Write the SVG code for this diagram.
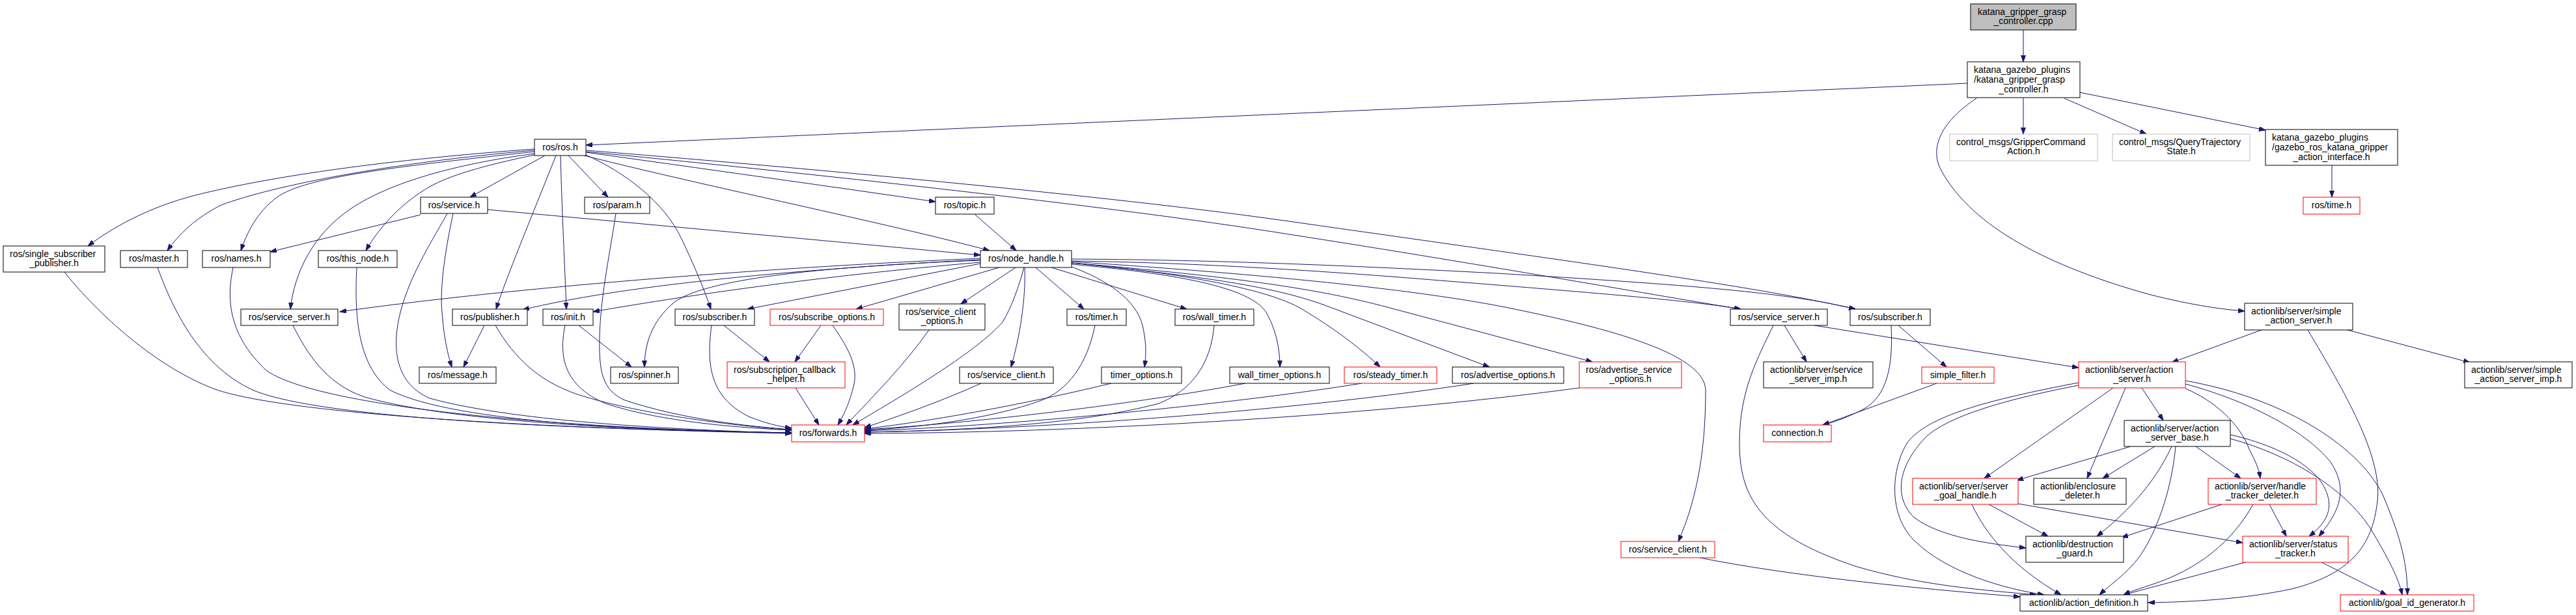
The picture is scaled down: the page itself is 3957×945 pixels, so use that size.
<svg xmlns="http://www.w3.org/2000/svg" width="3957" height="945" viewBox="0 0 3957 945">
<defs>
<marker id="arr" markerUnits="userSpaceOnUse" markerWidth="11" markerHeight="8" refX="10" refY="3.5" orient="auto">
<path d="M0,0 L10,3.5 L0,7 Z" fill="#191970" stroke="#191970" stroke-width="1"/>
</marker>
<style>
.node rect{fill:#fff;stroke:#000;stroke-width:1}
.red rect{stroke:#ff0000}
.gray rect{stroke:#bfbfbf}
.root rect{fill:#bfbfbf}
text{font-family:"Liberation Sans",Arial,sans-serif;font-size:14px;fill:#000}
.c{text-anchor:middle}
#edges path{fill:none;stroke:#191970;stroke-width:1;marker-end:url(#arr)}
</style>
</defs>
<rect x="0" y="0" width="3957" height="945" fill="#fff"/>
<g id="edges">
<path d="M3108,46 L3108,95"/>
<path d="M3022,128 L900,223"/>
<path d="M3108,150 L3108,206"/>
<path d="M3171,151 L3297,206"/>
<path d="M3195,142 L3480,200"/>
<path d="M3036,151 C2985,185 2962,225 2982,262 C3030,350 3150,410 3300,452 C3370,470 3420,476 3448,478"/>
<path d="M3582,254 L3582,303"/>
<path d="M821,229 C600,245 420,270 300,300 C230,318 175,348 135,378"/>
<path d="M821,231 C600,250 420,285 340,315 C300,335 275,360 257,385"/>
<path d="M821,233 C620,255 480,270 430,300 C400,320 382,350 370,385"/>
<path d="M821,236 C700,252 600,280 540,320 C480,360 452,420 446,475"/>
<path d="M821,238 C740,255 690,270 660,287 C620,310 585,345 562,385"/>
<path d="M837,239 L722,303"/>
<path d="M854,239 C830,300 780,420 762,475"/>
<path d="M861,239 C863,320 868,420 870,475"/>
<path d="M873,239 L934,303"/>
<path d="M900,238 C960,265 1020,310 1047,367 C1065,405 1082,445 1092,475"/>
<path d="M900,234 C1100,262 1300,290 1437,310"/>
<path d="M897,239 C1100,290 1350,340 1520,385"/>
<path d="M900,233 C1200,262 1700,315 1980,360 C2300,410 2550,455 2674,475"/>
<path d="M900,231 C1200,255 1700,300 1980,340 C2400,400 2700,440 2850,475"/>
<path d="M1646,401 C1800,403 1980,412 2200,430 C2450,450 2600,462 2674,475"/>
<path d="M1646,398 C1800,399 1980,403 2300,420 C2600,438 2750,450 2850,475"/>
<path d="M749,322 L1506,392"/>
<path d="M646,330 L415,387"/>
<path d="M696,328 C685,380 675,440 679,480 C682,520 688,545 694,564"/>
<path d="M687,328 C670,360 630,420 615,480 C600,540 610,590 660,612 C800,650 1050,660 1216,666"/>
<path d="M1497,329 L1561,385"/>
<path d="M1506,397 C1200,410 800,440 522,479"/>
<path d="M1506,399 C1200,415 950,440 803,476"/>
<path d="M1506,403 C1250,425 1050,455 911,479"/>
<path d="M1506,400 C1250,410 1080,430 1035,465 C1000,495 990,530 990,564"/>
<path d="M1506,405 L1148,475"/>
<path d="M1535,411 L1315,475"/>
<path d="M1560,411 L1476,467"/>
<path d="M1573,411 C1565,440 1555,470 1540,495 C1500,540 1400,600 1310,653"/>
<path d="M1574,411 C1576,460 1566,520 1553,564"/>
<path d="M1591,411 L1665,475"/>
<path d="M1615,411 L1823,475"/>
<path d="M1646,410 C1700,430 1745,460 1755,500 C1762,530 1760,550 1758,564"/>
<path d="M1646,406 C1800,420 1920,440 1945,480 C1962,510 1966,540 1966,564"/>
<path d="M1646,404 C1820,420 1950,445 2000,475 C2050,505 2090,535 2120,564"/>
<path d="M1646,404 C1850,425 1960,440 2043,472 L2288,564"/>
<path d="M1646,404 C1900,425 2030,445 2131,472 L2446,556"/>
<path d="M1646,402 C2000,425 2200,450 2312,472 C2450,500 2620,540 2620,600 C2620,680 2610,760 2578,832"/>
<path d="M99,418 C140,470 230,560 330,598 C450,640 900,660 1216,666"/>
<path d="M242,411 C260,460 300,560 390,600 C500,645 900,660 1216,665"/>
<path d="M358,411 C350,450 345,510 410,570 C500,630 900,660 1216,665"/>
<path d="M450,500 C470,540 500,590 560,610 C700,650 1000,662 1216,665"/>
<path d="M548,411 C545,470 545,560 600,600 C700,650 1000,662 1216,665"/>
<path d="M744,500 L712,564"/>
<path d="M761,500 C790,550 830,590 900,610 C1000,640 1150,656 1216,661"/>
<path d="M889,500 L970,564"/>
<path d="M868,500 C860,540 860,590 930,620 C1020,650 1150,658 1216,661"/>
<path d="M946,328 C935,400 922,460 921,520 C920,570 925,600 960,615 C1050,645 1150,655 1216,660"/>
<path d="M1093,500 C1085,560 1090,610 1150,640 C1175,650 1195,655 1216,658"/>
<path d="M1112,500 L1182,556"/>
<path d="M1261,500 L1221,556"/>
<path d="M1279,500 C1300,530 1318,560 1312,590 C1305,620 1295,640 1287,653"/>
<path d="M1222,596 L1258,653"/>
<path d="M1427,507 C1390,560 1340,610 1300,653"/>
<path d="M1507,589 C1450,615 1380,640 1328,657"/>
<path d="M1682,500 C1670,560 1640,600 1600,615 C1520,645 1400,658 1328,661"/>
<path d="M1707,589 C1600,615 1450,645 1328,659"/>
<path d="M1865,500 C1860,560 1830,600 1780,620 C1650,655 1450,662 1328,664"/>
<path d="M1913,589 C1750,620 1500,650 1328,660"/>
<path d="M2092,589 C1900,620 1550,655 1328,662"/>
<path d="M2264,589 C2000,630 1600,660 1328,664"/>
<path d="M2426,596 C2100,640 1650,665 1328,666"/>
<path d="M2741,500 L2775,556"/>
<path d="M2724,500 C2700,550 2672,600 2672,680 C2672,760 2700,820 2850,870 C2950,900 3050,907 3128,914"/>
<path d="M2787,500 L3193,565"/>
<path d="M2916,500 L2990,564"/>
<path d="M2905,500 C2908,560 2900,610 2860,630 C2840,640 2820,648 2800,653"/>
<path d="M2975,589 L2800,653"/>
<path d="M2611,857 C2750,885 2950,905 3103,917"/>
<path d="M3246,596 L3048,735"/>
<path d="M3265,596 L3206,735"/>
<path d="M3290,596 L3323,646"/>
<path d="M3193,592 C3100,610 3000,635 2960,670 C2920,710 2905,760 2940,795 C2980,825 3050,835 3112,842"/>
<path d="M3193,588 C3050,615 2960,640 2930,680 C2905,720 2900,790 2940,830 C2990,880 3080,905 3140,914"/>
<path d="M3357,597 C3400,615 3440,650 3455,690 C3465,710 3470,720 3472,735"/>
<path d="M3357,590 C3450,615 3540,660 3580,710 C3610,755 3590,790 3562,824"/>
<path d="M3357,585 C3500,610 3620,680 3660,760 C3690,830 3698,870 3698,914"/>
<path d="M3373,686 L3442,735"/>
<path d="M3426,668 C3480,680 3560,710 3575,760 C3585,790 3565,810 3547,824"/>
<path d="M3426,674 C3520,700 3600,750 3640,810 C3670,860 3685,890 3690,914"/>
<path d="M3273,686 L3098,738"/>
<path d="M3310,686 L3230,735"/>
<path d="M3336,686 C3320,720 3290,770 3221,824"/>
<path d="M3342,686 C3335,760 3310,820 3290,850 C3270,880 3245,895 3225,914"/>
<path d="M3413,775 L3259,826"/>
<path d="M3461,775 C3430,830 3380,875 3300,900 C3285,905 3272,909 3262,914"/>
<path d="M3486,775 L3512,824"/>
<path d="M3055,775 L3146,824"/>
<path d="M3029,775 C3050,820 3090,870 3166,914"/>
<path d="M3100,774 L3445,834"/>
<path d="M3449,864 L3262,914"/>
<path d="M3566,864 L3666,914"/>
<path d="M3545,507 C3600,600 3660,700 3652,770 C3645,830 3620,880 3520,905 C3450,920 3370,925 3300,926"/>
<path d="M3474,507 L3336,557"/>
<path d="M3606,507 L3794,557"/>
</g>
<g id="n_cpp" class="node root"><rect x="3027" y="6" width="162" height="40"/><text x="3038" y="23">katana_gripper_grasp</text><text class="c" x="3108" y="37">_controller.cpp</text></g>
<g id="n_katana_controller_h" class="node"><rect x="3022" y="95" width="173" height="55"/><text x="3032" y="111.5">katana_gazebo_plugins</text><text x="3032" y="126.5">/katana_gripper_grasp</text><text class="c" x="3108.5" y="141.5">_controller.h</text></g>
<g id="n_gripper_cmd" class="node gray"><rect x="2995" y="206" width="227" height="41"/><text x="3005" y="223">control_msgs/GripperCommand</text><text class="c" x="3108.5" y="237">Action.h</text></g>
<g id="n_query_traj" class="node gray"><rect x="3245" y="206" width="211" height="41"/><text x="3255" y="223">control_msgs/QueryTrajectory</text><text class="c" x="3350.5" y="237">State.h</text></g>
<g id="n_gazebo_iface" class="node"><rect x="3480" y="199" width="203" height="55"/><text x="3490" y="215.5">katana_gazebo_plugins</text><text x="3490" y="230.5">/gazebo_ros_katana_gripper</text><text class="c" x="3581.5" y="245.5">_action_interface.h</text></g>
<g id="n_time" class="node red"><rect x="3538" y="303" width="87" height="26"/><text class="c" x="3581.5" y="320">ros/time.h</text></g>
<g id="n_ros" class="node"><rect x="821" y="214" width="79" height="25"/><text class="c" x="860.5" y="231">ros/ros.h</text></g>
<g id="n_ssp" class="node"><rect x="5" y="378" width="156" height="40"/><text x="15" y="395">ros/single_subscriber</text><text class="c" x="83" y="409">_publisher.h</text></g>
<g id="n_master" class="node"><rect x="185" y="385" width="103" height="26"/><text class="c" x="236.5" y="402">ros/master.h</text></g>
<g id="n_names" class="node"><rect x="311" y="385" width="104" height="26"/><text class="c" x="363" y="402">ros/names.h</text></g>
<g id="n_this_node" class="node"><rect x="489" y="385" width="121" height="26"/><text class="c" x="549.5" y="402">ros/this_node.h</text></g>
<g id="n_service" class="node"><rect x="646" y="303" width="103" height="25"/><text class="c" x="697.5" y="320">ros/service.h</text></g>
<g id="n_param" class="node"><rect x="898" y="303" width="100" height="25"/><text class="c" x="948" y="320">ros/param.h</text></g>
<g id="n_topic" class="node"><rect x="1437" y="303" width="90" height="26"/><text class="c" x="1482" y="320">ros/topic.h</text></g>
<g id="n_node_handle" class="node"><rect x="1506" y="385" width="140" height="26"/><text class="c" x="1576" y="402">ros/node_handle.h</text></g>
<g id="n_service_server_l" class="node"><rect x="370" y="475" width="149" height="25"/><text class="c" x="444.5" y="492">ros/service_server.h</text></g>
<g id="n_publisher" class="node"><rect x="695" y="475" width="115" height="25"/><text class="c" x="752.5" y="492">ros/publisher.h</text></g>
<g id="n_init" class="node"><rect x="834" y="475" width="77" height="25"/><text class="c" x="872.5" y="492">ros/init.h</text></g>
<g id="n_subscriber_l" class="node"><rect x="1037" y="475" width="122" height="25"/><text class="c" x="1098" y="492">ros/subscriber.h</text></g>
<g id="n_subscribe_options" class="node red"><rect x="1183" y="475" width="174" height="25"/><text class="c" x="1270" y="492">ros/subscribe_options.h</text></g>
<g id="n_service_client_options" class="node"><rect x="1381" y="467" width="132" height="40"/><text x="1391" y="484">ros/service_client</text><text class="c" x="1447" y="498">_options.h</text></g>
<g id="n_timer" class="node"><rect x="1639" y="475" width="91" height="25"/><text class="c" x="1684.5" y="492">ros/timer.h</text></g>
<g id="n_wall_timer" class="node"><rect x="1805" y="475" width="121" height="25"/><text class="c" x="1865.5" y="492">ros/wall_timer.h</text></g>
<g id="n_message" class="node"><rect x="644" y="564" width="118" height="25"/><text class="c" x="703" y="581">ros/message.h</text></g>
<g id="n_spinner" class="node"><rect x="938" y="564" width="104" height="25"/><text class="c" x="990" y="581">ros/spinner.h</text></g>
<g id="n_sub_cb_helper" class="node red"><rect x="1117" y="556" width="181" height="40"/><text x="1127" y="573">ros/subscription_callback</text><text class="c" x="1207.5" y="587">_helper.h</text></g>
<g id="n_service_client_b" class="node"><rect x="1474" y="564" width="144" height="25"/><text class="c" x="1546" y="581">ros/service_client.h</text></g>
<g id="n_timer_options" class="node"><rect x="1692" y="564" width="123" height="25"/><text class="c" x="1753.5" y="581">timer_options.h</text></g>
<g id="n_wall_timer_options" class="node"><rect x="1889" y="564" width="153" height="25"/><text class="c" x="1965.5" y="581">wall_timer_options.h</text></g>
<g id="n_steady_timer" class="node red"><rect x="2065" y="564" width="142" height="25"/><text class="c" x="2136" y="581">ros/steady_timer.h</text></g>
<g id="n_advertise_options" class="node"><rect x="2231" y="564" width="171" height="25"/><text class="c" x="2316.5" y="581">ros/advertise_options.h</text></g>
<g id="n_advertise_service_options" class="node red"><rect x="2426" y="556" width="157" height="40"/><text x="2436" y="573">ros/advertise_service</text><text class="c" x="2504.5" y="587">_options.h</text></g>
<g id="n_forwards" class="node red"><rect x="1216" y="653" width="112" height="26"/><text class="c" x="1272" y="670">ros/forwards.h</text></g>
<g id="n_service_client_r" class="node red"><rect x="2490" y="832" width="144" height="25"/><text class="c" x="2562" y="849">ros/service_client.h</text></g>
<g id="n_service_server_r" class="node"><rect x="2658" y="475" width="149" height="25"/><text class="c" x="2732.5" y="492">ros/service_server.h</text></g>
<g id="n_subscriber_r" class="node"><rect x="2842" y="475" width="123" height="25"/><text class="c" x="2903.5" y="492">ros/subscriber.h</text></g>
<g id="n_service_server_imp" class="node"><rect x="2709" y="556" width="168" height="40"/><text x="2719" y="573">actionlib/server/service</text><text class="c" x="2793" y="587">_server_imp.h</text></g>
<g id="n_simple_filter" class="node red"><rect x="2952" y="564" width="111" height="25"/><text class="c" x="3007.5" y="581">simple_filter.h</text></g>
<g id="n_connection" class="node red"><rect x="2709" y="653" width="104" height="26"/><text class="c" x="2761" y="670">connection.h</text></g>
<g id="n_action_server" class="node red"><rect x="3193" y="556" width="164" height="40"/><text x="3203" y="573">actionlib/server/action</text><text class="c" x="3275" y="587">_server.h</text></g>
<g id="n_action_server_base" class="node"><rect x="3263" y="646" width="163" height="40"/><text x="3273" y="663">actionlib/server/action</text><text class="c" x="3344.5" y="677">_server_base.h</text></g>
<g id="n_server_goal_handle" class="node red"><rect x="2938" y="735" width="162" height="40"/><text x="2948" y="752">actionlib/server/server</text><text class="c" x="3019" y="766">_goal_handle.h</text></g>
<g id="n_enclosure_deleter" class="node"><rect x="3124" y="735" width="142" height="40"/><text x="3134" y="752">actionlib/enclosure</text><text class="c" x="3195" y="766">_deleter.h</text></g>
<g id="n_destruction_guard" class="node"><rect x="3112" y="824" width="150" height="40"/><text x="3122" y="841">actionlib/destruction</text><text class="c" x="3187" y="855">_guard.h</text></g>
<g id="n_action_definition" class="node"><rect x="3103" y="914" width="196" height="25"/><text class="c" x="3201" y="931">actionlib/action_definition.h</text></g>
<g id="n_simple_action_server" class="node"><rect x="3448" y="466" width="166" height="41"/><text x="3458" y="483">actionlib/server/simple</text><text class="c" x="3531" y="497">_action_server.h</text></g>
<g id="n_simple_action_server_imp" class="node"><rect x="3786" y="556" width="165" height="40"/><text x="3796" y="573">actionlib/server/simple</text><text class="c" x="3868.5" y="587">_action_server_imp.h</text></g>
<g id="n_handle_tracker_deleter" class="node red"><rect x="3392" y="735" width="166" height="40"/><text x="3402" y="752">actionlib/server/handle</text><text class="c" x="3475" y="766">_tracker_deleter.h</text></g>
<g id="n_status_tracker" class="node red"><rect x="3445" y="824" width="162" height="40"/><text x="3455" y="841">actionlib/server/status</text><text class="c" x="3526" y="855">_tracker.h</text></g>
<g id="n_goal_id_generator" class="node red"><rect x="3595" y="914" width="205" height="25"/><text class="c" x="3697.5" y="931">actionlib/goal_id_generator.h</text></g>
</svg>
